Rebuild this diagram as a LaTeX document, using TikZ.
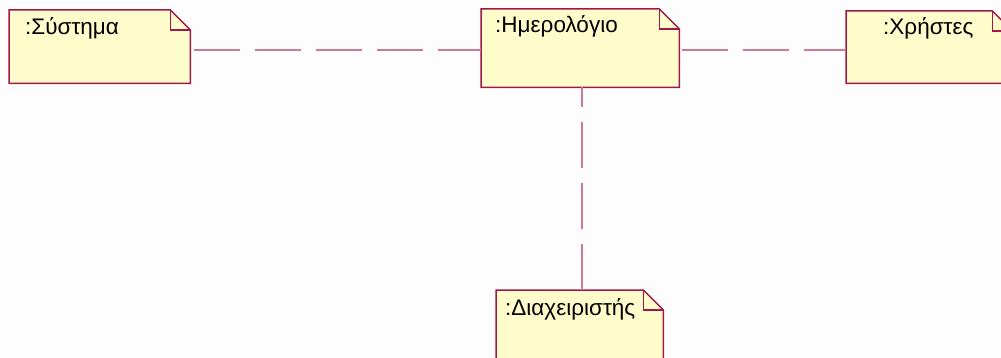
\documentclass[tikz,border=0pt]{standalone}
\usepackage{fontspec}
\setmainfont{Liberation Sans}
\pgfdeclarelayer{bg}
\pgfsetlayers{bg,main}
\definecolor{notefill}{HTML}{FFFCCC}
\definecolor{noteline}{HTML}{A01848}
\definecolor{linkcol}{HTML}{CC7898}
\definecolor{pagebg}{HTML}{FDFDFD}
\newcommand\drawnote[1]{%
  \filldraw[notebox] (#1.north west) -- ([xshift=-20pt]#1.north east)
    -- ([yshift=-20pt]#1.north east) -- (#1.south east) -- (#1.south west) -- cycle;
  \draw[noteline, line width=1.5pt] ([xshift=-20pt]#1.north east) |- ([yshift=-20pt]#1.north east);}
\begin{document}
\begin{tikzpicture}[x=1pt,y=-1pt,
  note/.style={rectangle, draw=none, inner sep=0pt, anchor=north west},
  notebox/.style={fill=notefill, draw=noteline, line width=1.5pt, line join=miter},
  lbl/.style={anchor=base west, inner sep=0pt, font=\fontsize{22.5}{24}\selectfont},
  link/.style={draw=linkcol, line width=2pt, dash pattern=on 46pt off 15pt}]
\useasboundingbox (0,0) rectangle (1001,358);
\fill[pagebg] (0,0) rectangle (1001,358);
\clip (0,0) rectangle (1001,358);
\node[note, minimum width=181pt, minimum height=73pt] (sys) at (9,10) {};
\node[note, minimum width=198pt, minimum height=78pt] (cal) at (481,9) {};
\node[note, minimum width=166pt, minimum height=72pt] (usr) at (846,11) {};
\node[note, minimum width=167pt, minimum height=80pt] (adm) at (496,290) {};
\drawnote{sys}
\drawnote{cal}
\drawnote{usr}
\drawnote{adm}
\node[lbl] (tsys) at (25,35) {:Σύστημα};
\node[lbl] (tcal) at (495,33) {:Ημερολόγιο};
\node[lbl] (tusr) at (883,35) {:Χρήστες};
\node[lbl] (tadm) at (505,315) {:Διαχειριστής};
\draw[link, dash phase=57pt] ([yshift=-2pt]sys.east |- cal.west) -- ([yshift=-2pt]cal.west);
\draw[link, dash phase=58pt] ([yshift=-2pt]cal.east) -- ([yshift=-2pt]cal.east -| usr.west);
\draw[link] ([xshift=2pt]cal.south |- adm.north) -- ([xshift=2pt]cal.south);
\end{tikzpicture}
\end{document}
